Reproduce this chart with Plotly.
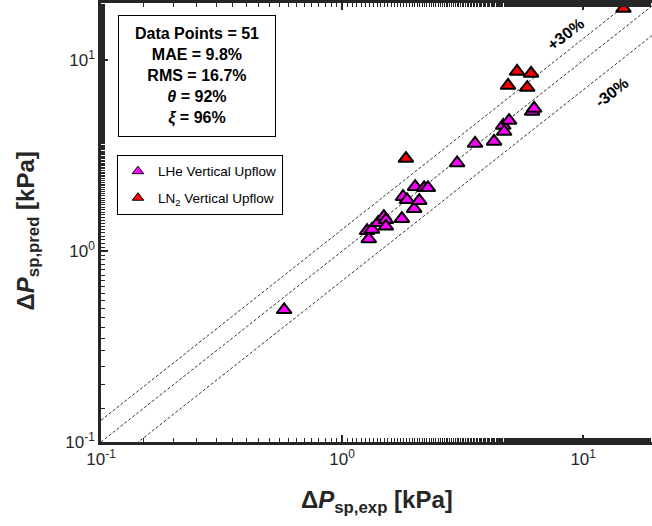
import numpy as np
import plotly.graph_objects as go

# ---- data ----
lhe_exp = [0.575, 1.27, 1.29, 1.33, 1.41, 1.49, 1.52, 1.52, 1.77, 1.79, 1.86, 1.99, 2.01,
           2.09, 2.19, 2.27, 3.0, 3.56, 4.27, 4.66, 4.70, 4.93, 6.14, 6.26]
lhe_pred = [0.493, 1.28, 1.16, 1.30, 1.41, 1.52, 1.46, 1.35, 1.48, 1.93, 1.86, 1.67, 2.18,
            1.84, 2.15, 2.15, 2.9, 3.67, 3.76, 4.56, 4.24, 4.84, 5.4, 5.6]
ln2_exp = [1.84, 4.88, 5.32, 5.86, 6.08, 14.7]
ln2_pred = [3.06, 7.39, 8.75, 7.21, 8.55, 18.7]

band_factors = [1.0, 1.3, 0.7]
line_x = [0.1, 20.0]

stats_lines = ["Data Points = 51", "MAE = 9.8%", "RMS = 16.7%",
               "<i>θ</i> = 92%", "<i>ξ</i> = 96%"]

FONT = "Liberation Sans, Arial, Helvetica, sans-serif"
AX = "#262626"

fig = go.Figure()

for f in band_factors:
    fig.add_trace(go.Scatter(
        x=line_x, y=[f * v for v in line_x], mode="lines",
        line=dict(color="black", width=0.8, dash="3px,2px"),
        showlegend=False, hoverinfo="skip"))

fig.add_trace(go.Scatter(
    x=lhe_exp, y=lhe_pred, mode="markers", showlegend=False, cliponaxis=False,
    marker=dict(symbol="triangle-up", size=13, color="#FF00FF",
                line=dict(color="black", width=2))))
fig.add_trace(go.Scatter(
    x=ln2_exp, y=ln2_pred, mode="markers", showlegend=False, cliponaxis=False,
    marker=dict(symbol="triangle-up", size=13, color="#FF0000",
                line=dict(color="black", width=2))))

# legend entries
fig.add_trace(go.Scatter(
    x=[None], y=[None], mode="markers", name="LHe Vertical Upflow", legendgroup="a",
    marker=dict(symbol="triangle-up", size=10, color="#FF00FF",
                line=dict(color="black", width=1))))
fig.add_trace(go.Scatter(
    x=[None], y=[None], mode="markers", name="LN<sub>2</sub> Vertical Upflow", legendgroup="b",
    marker=dict(symbol="triangle-up", size=10, color="#FF0000",
                line=dict(color="black", width=1))))

tickvals = [0.1, 1, 10]
ticktext = ["10<sup>-1</sup>", "10<sup>0</sup>", "10<sup>1</sup>"]

axis_common = dict(
    type="log", showgrid=False, zeroline=False, showline=True, linecolor=AX, linewidth=2.5,
    ticks="inside", ticklen=7, tickwidth=1.5, tickcolor=AX, automargin=False,
    tickvals=tickvals, ticktext=ticktext,
    tickfont=dict(family=FONT, size=17, color=AX),
    minor=dict(ticks="inside", ticklen=4, tickwidth=1.2, tickcolor=AX, showgrid=False),
)

fig.update_xaxes(**axis_common, range=[-1, np.log10(19.3)], mirror="ticks")
fig.update_yaxes(**axis_common, range=[-1, np.log10(20)], mirror=False)

fig.update_layout(
    width=652, height=526,
    margin=dict(l=101, r=0, t=3, b=84, autoexpand=False),
    plot_bgcolor="white", paper_bgcolor="white",
    font=dict(family=FONT, color="black"),
    showlegend=True,
    legend=dict(x=0.029, y=0.654, xanchor="left", yanchor="top",
                bordercolor="black", borderwidth=1, bgcolor="white",
                font=dict(family=FONT, size=13.5, color="black"),
                tracegroupgap=6, itemwidth=30),
    annotations=[
        dict(xref="paper", yref="paper", x=0.031, y=0.973, xanchor="left", yanchor="top",
             text="<b>" + "<br>".join(stats_lines) + "</b>", showarrow=False, align="center",
             font=dict(family=FONT, size=16, color="black"),
             bordercolor="black", borderwidth=1, borderpad=3, bgcolor="white",
             width=150, height=114),
        dict(xref="x", yref="y", x=np.log10(8.42), y=np.log10(13.7), text="<b>+30%</b>",
             showarrow=False, textangle=-38, font=dict(family=FONT, size=16, color="black")),
        dict(xref="x", yref="y", x=np.log10(13.1), y=np.log10(6.79), text="<b>-30%</b>",
             showarrow=False, textangle=-38, font=dict(family=FONT, size=16, color="black")),
        dict(xref="paper", yref="paper", x=0.5, y=-0.135, xanchor="center", yanchor="middle",
             text="<b>Δ<i>P</i><sub>sp,exp</sub> [kPa]</b>", showarrow=False,
             font=dict(family=FONT, size=24, color=AX)),
        dict(xref="paper", yref="paper", x=-0.134, y=0.48, xanchor="center", yanchor="middle",
             text="<b>Δ<i>P</i><sub>sp,pred</sub> [kPa]</b>", showarrow=False, textangle=-90,
             font=dict(family=FONT, size=24, color=AX)),
    ],
)

fig.write_html(
    "out.html",
    config={"displayModeBar": False},
    post_script="document.body.style.margin='0';document.body.style.overflow='hidden';",
)
